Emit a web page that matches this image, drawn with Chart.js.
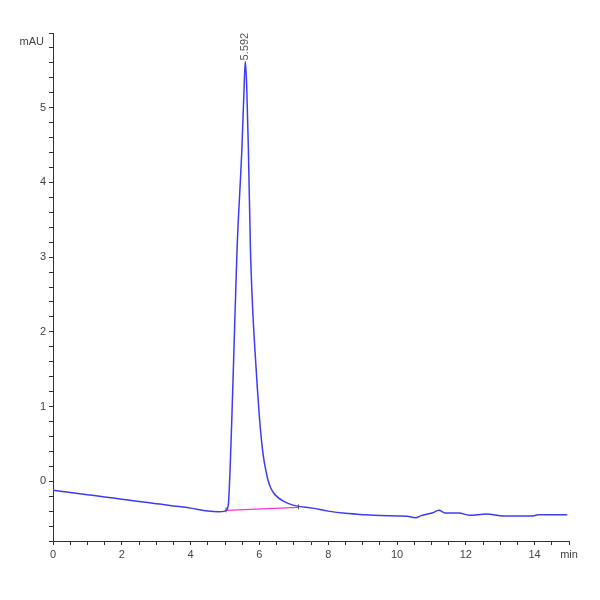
<!DOCTYPE html>
<html>
<head>
<meta charset="utf-8">
<script src="https://cdn.jsdelivr.net/npm/chart.js@4"></script>
<style>
  html, body { margin: 0; padding: 0; background: #fff; }
  #wrap { width: 600px; height: 600px; }
</style>
</head>
<body>
<div id="wrap"><canvas id="chromChart" width="600" height="600"></canvas></div>
<script>
// signal trace (min, mAU)
const times = [0.0, 0.5, 1.0, 1.5, 2.0, 2.5, 3.0, 3.5, 4.0, 4.5, 4.8, 5.0, 5.05, 5.1, 5.15, 5.2, 5.26, 5.35, 5.49, 5.55, 5.59,
  5.63, 5.68, 5.74, 5.8, 5.87, 5.94, 6.0, 6.06, 6.12, 6.19, 6.26, 6.33, 6.42, 6.52, 6.67, 6.85, 7.07, 7.54, 8.0, 8.5, 9.09, 9.5,
  10.0, 10.3, 10.54, 10.7, 11.02, 11.22, 11.4, 11.8, 12.1, 12.6, 13.1, 13.5, 13.92, 14.1, 14.5, 14.95];
const signal = [-0.12, -0.15, -0.18, -0.21, -0.24, -0.27, -0.30, -0.33, -0.36, -0.40, -0.41, -0.40, -0.38, -0.30, 0.19, 0.86, 1.76, 3.10, 4.44, 5.2, 5.62,
  5.3, 4.44, 3.10, 2.35, 1.76, 1.25, 0.86, 0.55, 0.32, 0.14, 0.0, -0.09, -0.16, -0.21, -0.26, -0.30, -0.33, -0.36, -0.40, -0.43, -0.45, -0.46,
  -0.465, -0.47, -0.49, -0.46, -0.425, -0.39, -0.425, -0.425, -0.455, -0.44, -0.465, -0.465, -0.465, -0.45, -0.45, -0.45];

// integration baseline
const baseTimes = [5.03, 7.14];
const baseValues = [-0.39, -0.35];

// peak labels
const peakTimes = [5.592];
const peakValues = [5.62];
const peakLabels = ['5.592'];

const FONT = '"Liberation Sans Narrow", "Liberation Sans", Arial, sans-serif';

const extraText = {
  id: 'extraText',
  afterDraw(chart) {
    const ctx = chart.ctx;
    const xs = chart.scales.x, ys = chart.scales.y;
    ctx.save();
    ctx.fillStyle = '#444';
    ctx.font = '11px ' + FONT;
    ctx.textAlign = 'right';
    ctx.textBaseline = 'middle';
    ctx.fillText('mAU', 44, 42);
    // peak retention time labels, vertical
    peakTimes.forEach((t, i) => {
      const px = xs.getPixelForValue(t);
      const py = ys.getPixelForValue(peakValues[i]);
      ctx.save();
      ctx.translate(px, py - 1);
      ctx.rotate(-Math.PI / 2);
      ctx.textAlign = 'left';
      ctx.textBaseline = 'middle';
      ctx.fillStyle = '#555';
      ctx.fillText(peakLabels[i], 0, 0);
      ctx.restore();
    });
    // small marks at the baseline ends
    ctx.strokeStyle = '#555';
    ctx.lineWidth = 1;
    baseTimes.forEach((t, i) => {
      const px = xs.getPixelForValue(t);
      const py = ys.getPixelForValue(baseValues[i]);
      ctx.beginPath();
      ctx.moveTo(px, py - 3);
      ctx.lineTo(px, py + 2);
      ctx.stroke();
    });
    ctx.restore();
  }
};

new Chart(document.getElementById('chromChart'), {
  type: 'line',
  data: {
    datasets: [
      {
        data: times.map((t, i) => ({ x: t, y: signal[i] })),
        borderColor: '#3c3cf5',
        borderWidth: 1.5,
        pointRadius: 0,
        cubicInterpolationMode: 'monotone'
      },
      {
        data: baseTimes.map((t, i) => ({ x: t, y: baseValues[i] })),
        borderColor: '#ff33cc',
        borderWidth: 1.2,
        pointRadius: 0,
        tension: 0
      }
    ]
  },
  options: {
    responsive: false,
    animation: false,
    layout: { padding: { left: 0, top: 33, right: 31, bottom: 0 } },
    plugins: { legend: { display: false }, tooltip: { enabled: false } },
    scales: {
      x: {
        type: 'linear',
        min: 0,
        max: 15,
        afterFit: s => { s.height = 59; },
        border: { display: true, color: '#333', width: 1 },
        grid: { drawOnChartArea: false, tickLength: 4, color: '#333' },
        ticks: {
          stepSize: 0.5,
          autoSkip: false,
          maxRotation: 0,
          color: '#444',
          font: { family: FONT, size: 11 },
          callback: v => (v === 15 ? 'min' : (v % 2 === 0 ? String(v) : ''))
        }
      },
      y: {
        min: -0.8,
        max: 6,
        afterFit: s => { s.width = 53; },
        border: { display: true, color: '#333', width: 1 },
        grid: { drawOnChartArea: false, tickLength: 4, color: '#333' },
        ticks: {
          stepSize: 0.2,
          autoSkip: false,
          color: '#444',
          font: { family: FONT, size: 11 },
          callback: v => {
            const r = Math.round(v * 10) / 10;
            return (Number.isInteger(r) && r >= 0 && r <= 5) ? String(r) : '';
          }
        }
      }
    }
  },
  plugins: [extraText]
});
</script>
</body>
</html>
